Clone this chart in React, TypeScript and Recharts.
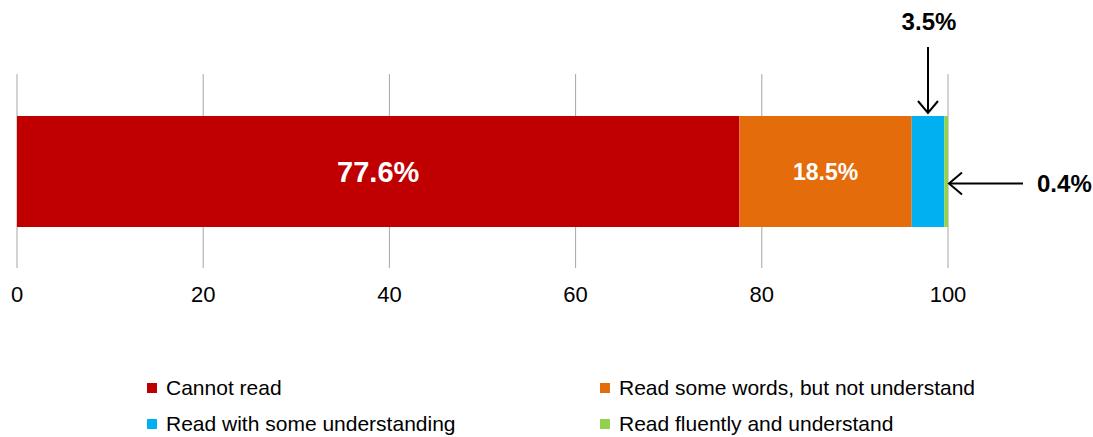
import { Bar, BarChart, CartesianGrid, LabelList, XAxis, YAxis } from 'recharts';

const CATEGORY = ['Reading'];
const SERIES_NAMES = [
  'Cannot read',
  'Read some words, but not understand',
  'Read with some understanding',
  'Read fluently and understand',
];
const SERIES_VALUES = [77.6, 18.5, 3.5, 0.4];
const SERIES_COLORS = ['#C00000', '#E46C0A', '#00B0F0', '#92D050'];
const X_TICKS = [0, 20, 40, 60, 80, 100];

const FONT = '"Liberation Sans", Arial, sans-serif';

const data = CATEGORY.map((name) => {
  const row: Record<string, string | number> = { name };
  SERIES_NAMES.forEach((s, i) => {
    row[`s${i}`] = SERIES_VALUES[i];
  });
  return row;
});

function InsideLabel({ x, y, width, height, value, size }: any) {
  return (
    <text
      x={x + width / 2}
      y={y + height / 2}
      textAnchor="middle"
      dominantBaseline="central"
      fill="#fff"
      fontWeight="bold"
      fontSize={size}
      fontFamily={FONT}
    >
      {Number(value).toFixed(1)}%
    </text>
  );
}

function TopArrowLabel({ x, y, width, value }: any) {
  const cx = x + width / 2;
  const top = y - 69;
  const tip = y - 3;
  return (
    <g>
      <text x={cx + 1} y={y - 86} textAnchor="middle" fontWeight="bold" fontSize={24} fontFamily={FONT} fill="#000">
        {Number(value).toFixed(1)}%
      </text>
      <line x1={cx} y1={top} x2={cx} y2={tip} stroke="#000" strokeWidth={2} />
      <polyline points={`${cx - 10},${tip - 12} ${cx},${tip} ${cx + 10},${tip - 12}`} fill="none" stroke="#000" strokeWidth={2} />
    </g>
  );
}

function SideArrowLabel({ x, y, width, height, value }: any) {
  const tipX = x + width + 1;
  const ay = y + height / 2 + 12;
  const tail = tipX + 74;
  return (
    <g>
      <line x1={tipX} y1={ay} x2={tail} y2={ay} stroke="#000" strokeWidth={2} />
      <polyline points={`${tipX + 13},${ay - 11} ${tipX},${ay} ${tipX + 13},${ay + 11}`} fill="none" stroke="#000" strokeWidth={2} />
      <text x={tail + 14} y={ay} dominantBaseline="central" fontWeight="bold" fontSize={24} fontFamily={FONT} fill="#000">
        {Number(value).toFixed(1)}%
      </text>
    </g>
  );
}

function LegendGrid() {
  return (
    <div
      style={{
        position: 'absolute',
        left: 147,
        top: 376,
        display: 'grid',
        gridTemplateColumns: '453px 420px',
        rowGap: 12,
        fontFamily: FONT,
        fontSize: 21,
        color: '#000',
      }}
    >
      {SERIES_NAMES.map((name, i) => (
        <div key={name} style={{ display: 'flex', alignItems: 'center', height: 24, whiteSpace: 'nowrap' }}>
          <span style={{ width: 10, height: 10, background: SERIES_COLORS[i], marginRight: 9, flexShrink: 0 }} />
          <span>{name}</span>
        </div>
      ))}
    </div>
  );
}

export default function App() {
  return (
    <div style={{ position: 'absolute', left: 0, top: 0, width: 1093, height: 437, background: '#fff' }}>
      <BarChart
        width={1093}
        height={437}
        data={data}
        layout="vertical"
        margin={{ top: 74, right: 145, left: 17, bottom: 129 }}
      >
        <CartesianGrid horizontal={false} stroke="#A6A6A6" />
        <XAxis
          type="number"
          domain={[0, 100]}
          ticks={X_TICKS}
          axisLine={false}
          tickLine={false}
          tickMargin={12}
          tick={{ fontSize: 22, fill: '#000', fontFamily: FONT }}
          height={40}
        />
        <YAxis type="category" dataKey="name" hide />
        {SERIES_NAMES.map((name, i) => (
          <Bar
            key={name}
            dataKey={`s${i}`}
            name={name}
            stackId="a"
            fill={SERIES_COLORS[i]}
            barSize={111}
            isAnimationActive={false}
          >
            {i === 0 ? <LabelList dataKey={`s${i}`} content={(p: any) => <InsideLabel {...p} size={29} />} /> : null}
            {i === 1 ? <LabelList dataKey={`s${i}`} content={(p: any) => <InsideLabel {...p} size={23} />} /> : null}
            {i === 2 ? <LabelList dataKey={`s${i}`} content={(p: any) => <TopArrowLabel {...p} />} /> : null}
            {i === 3 ? <LabelList dataKey={`s${i}`} content={(p: any) => <SideArrowLabel {...p} />} /> : null}
          </Bar>
        ))}
      </BarChart>
      <LegendGrid />
    </div>
  );
}
